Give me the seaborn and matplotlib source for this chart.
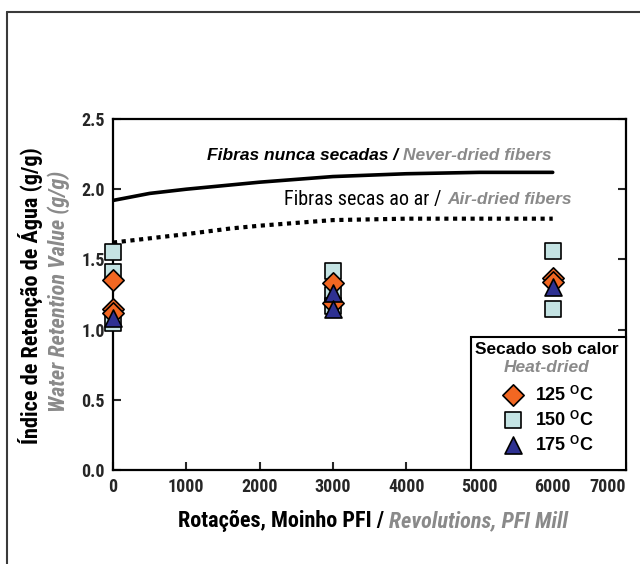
import matplotlib
matplotlib.use("Agg")
import matplotlib.pyplot as plt
from matplotlib import font_manager
from matplotlib.lines import Line2D
from matplotlib.patches import Rectangle
import seaborn as sns
import pandas as pd

# ---------------- data ----------------
rev_125 = [0, 0, 0, 3000, 3000, 6000, 6000]
wrv_125 = [1.35, 1.15, 1.12, 1.33, 1.19, 1.37, 1.34]
rev_150 = [0, 0, 0, 3000, 3000, 3000, 6000, 6000]
wrv_150 = [1.55, 1.41, 1.05, 1.42, 1.25, 1.17, 1.56, 1.15]
rev_175 = [0, 3000, 3000, 6000]
wrv_175 = [1.08, 1.26, 1.15, 1.30]

curve_rev = [0, 500, 1000, 1600, 2000, 3000, 4000, 5000, 6000]
never_dried = [1.92, 1.97, 2.00, 2.03, 2.05, 2.09, 2.11, 2.12, 2.12]
air_dried = [1.62, 1.65, 1.68, 1.72, 1.74, 1.78, 1.79, 1.79, 1.79]

x_ticks = [0, 1000, 2000, 3000, 4000, 5000, 6000, 7000]
y_ticks = [0.0, 0.5, 1.0, 1.5, 2.0, 2.5]
legend_labels = ["125", "150", "175"]

ORANGE = "#f26722"
LBLUE = "#c4e3e3"
DBLUE = "#2e3192"
GRAY = "#8a8a8a"

# ---------------- fonts ----------------
sns.set_style("ticks")
plt.rcParams["font.family"] = ["Liberation Sans", "DejaVu Sans"]

ttf = font_manager.fontManager.ttflist
names = {f.name for f in ttf}
cond = None  # (family, stretch)
for nm in ["Liberation Sans Narrow", "Roboto Condensed", "Arial Narrow",
           "Open Sans Condensed", "Noto Sans Condensed"]:
    if nm in names:
        cond = (nm, "normal")
        break
if cond is None:
    for f in ttf:
        if str(f.stretch) in ("condensed", "semi-condensed", "extra-condensed") or \
                (isinstance(f.stretch, int) and f.stretch < 500):
            if f.name in ("DejaVu Sans", "Noto Sans", "Open Sans", "Roboto", "Liberation Sans"):
                cond = (f.name, "condensed")
                break
if cond is None:
    for f in ttf:
        if "Condensed" in f.name or "Narrow" in f.name:
            cond = (f.name, "normal")
            break

if cond is not None:
    CFAM = dict(family=[cond[0], "Liberation Sans"], stretch=cond[1])
    SCALE = 1.0
else:
    CFAM = dict(family=["Liberation Sans"])
    SCALE = 0.82

W, H = 640, 564
fig = plt.figure(figsize=(W / 100, H / 100), dpi=100)
ax = fig.add_axes([113 / W, 1 - 470 / H, (626 - 113) / W, (470 - 119) / H])

# curves
df_curve = pd.DataFrame({"rev": curve_rev, "nd": never_dried, "ad": air_dried})
sns.lineplot(data=df_curve, x="rev", y="nd", ax=ax, color="black", lw=2.6, zorder=2)
sns.lineplot(data=df_curve, x="rev", y="ad", ax=ax, color="black", lw=3.0,
             linestyle=(0, (1, 1.1)), zorder=2)

# points
sns.scatterplot(x=rev_150, y=wrv_150, ax=ax, marker="s", s=135, color=LBLUE,
                edgecolor="black", linewidth=1.2, zorder=3, clip_on=False)
sns.scatterplot(x=rev_125, y=wrv_125, ax=ax, marker="D", s=118, color=ORANGE,
                edgecolor="black", linewidth=1.2, zorder=4, clip_on=False)
sns.scatterplot(x=rev_175, y=wrv_175, ax=ax, marker="^", s=150, color=DBLUE,
                edgecolor="black", linewidth=1.2, zorder=5, clip_on=False)

ax.set_xlim(0, 7000)
ax.set_ylim(0, 2.5)
ax.set_xticks(x_ticks)
ax.set_yticks(y_ticks)
ax.set_yticklabels([f"{v:.1f}" for v in y_ticks])
ax.set_xticklabels([str(v) for v in x_ticks])
ax.set_xlabel("")
ax.set_ylabel("")
for s in ax.spines.values():
    s.set_linewidth(1.6)
    s.set_color("black")
    s.set_visible(True)
ax.tick_params(axis="both", direction="in", length=6, width=1.5, pad=6)
ax.tick_params(axis="y", right=True, left=True)
ax.tick_params(axis="x", top=False, bottom=True)
for lab in ax.get_xticklabels() + ax.get_yticklabels():
    lab.set_fontweight("bold")
    lab.set_family(CFAM["family"])
    if "stretch" in CFAM:
        lab.set_fontstretch(CFAM["stretch"])
    lab.set_fontsize(13 if cond else 11.5)
xl = ax.get_xticklabels()
xl[-1].set_horizontalalignment("right")
xl[-1].set_x(7000)

# figure frame
fx, fy = 7 / W, 1 - 12 / H
fig.add_artist(Line2D([fx, fx], [0, fy], transform=fig.transFigure, color="#3a3a3a", lw=1.5))
fig.add_artist(Line2D([fx, 1.01], [fy, fy], transform=fig.transFigure, color="#3a3a3a", lw=1.5))

fig.canvas.draw()
renderer = fig.canvas.get_renderer()


def seq_text(x_px, y_px, parts, ha="center", va="center", zorder=10):
    """parts: list of (text, kwargs, gap_before_px, dy_px)."""
    objs, widths = [], []
    for s, kw, gap, dy in parts:
        t = fig.text(0, 0, s, transform=fig.transFigure, ha="left", va=va, zorder=zorder, **kw)
        bb = t.get_window_extent(renderer)
        objs.append((t, gap, dy))
        widths.append(bb.width + gap)
    total = sum(widths)
    if ha == "center":
        x0 = x_px - total / 2
    elif ha == "left":
        x0 = x_px
    else:
        x0 = x_px - total
    cur = x0
    for (t, gap, dy), w in zip(objs, widths):
        t.set_position(((cur + gap) / W, (H - y_px + dy) / H))
        cur += w
    return objs


# annotations
bi_black = dict(fontsize=12.5, fontweight="bold", style="italic", color="black")
bi_gray = dict(fontsize=12.5, fontweight="bold", style="italic", color=GRAY)
seq_text(379, 155, [("Fibras nunca secadas /", bi_black, 0, 0),
                    ("Never-dried fibers", bi_gray, 5, 0)])
seq_text(428, 200, [("Fibras secas ao ar /", dict(fontsize=14.5 * SCALE, color="black", **CFAM), 0, 0),
                    ("Air-dried fibers", bi_gray, 5, 0)])

# axis labels
lab_kw = dict(fontsize=16 * SCALE, fontweight="bold", **CFAM)
seq_text(373, 521, [("Rotações, Moinho PFI /", dict(color="black", **lab_kw), 0, 0),
                    ("Revolutions, PFI Mill", dict(color=GRAY, style="italic", **lab_kw), 5, 0)])
fig.text(31 / W, 1 - 296 / H, "Índice de Retenção de Água (g/g)", rotation=90,
         ha="center", va="center", color="black", **lab_kw)
fig.text(59 / W, 1 - 291 / H, "Water Retention Value (g/g)", rotation=90,
         ha="center", va="center", color=GRAY, style="italic", **lab_kw)

# legend box (manual)
lx0, ly0 = 471, 337
ax.add_patch(Rectangle(((lx0 - 113) / 513, 0), (626 - lx0) / 513, (470 - ly0) / 351,
                       transform=ax.transAxes, facecolor="white", edgecolor="black",
                       lw=1.5, zorder=6, clip_on=False))
seq_text(547, 350, [("Secado sob calor", dict(fontsize=12.5, fontweight="bold", color="black"), 0, 0)])
seq_text(547, 367, [("Heat-dried", dict(fontsize=12.5, fontweight="bold", style="italic", color=GRAY), 0, 0)])
leg_markers = [("D", ORANGE, 118), ("s", LBLUE, 135), ("^", DBLUE, 150)]
rows = [395, 420, 445]
for (m, c, sz), lab, ry in zip(leg_markers, legend_labels, rows):
    ax.scatter([(513 - 113) / 513], [(470 - ry) / 351], transform=ax.transAxes, marker=m,
               s=sz, color=c, edgecolor="black", linewidth=1.2, zorder=7, clip_on=False)
    kw = dict(fontsize=13, fontweight="bold", color="black")
    seq_text(536, ry + 5, [(lab, kw, 0, 0),
                           ("O", dict(fontsize=8.5, fontweight="bold", color="black"), 3, 6),
                           ("C", kw, 1, 0)], ha="left", va="baseline")

fig.savefig("out.png", dpi=100)
